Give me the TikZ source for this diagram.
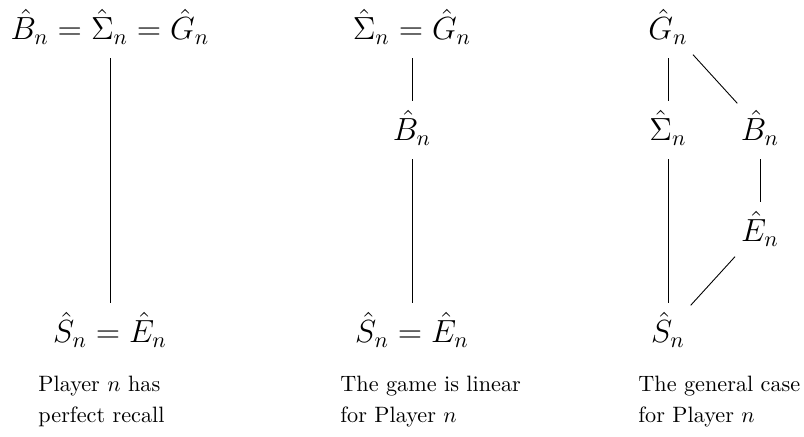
\documentclass[tikz,border=0pt]{standalone}
\begin{document}
\begin{tikzpicture}[x=0.45pt,y=-0.45pt,
  mnode/.style={anchor=base,inner sep=0pt,outer sep=0pt,font=\Large},
  conn/.style={line width=0.4pt,shorten <=6pt,shorten >=4.5pt},
  captext/.style={anchor=base west,align=left,inner sep=0pt}]
\useasboundingbox (0,0) rectangle (804,437);
% column 1
\node[mnode] (a1) at (110,40) {$\hat B_n=\hat\Sigma_n=\hat G_n$};
\node[mnode] (a2) at (110,343) {$\hat S_n=\hat E_n$};
\draw[conn] (a1) -- (a2);
\node[captext] (c1) at (38,423) {Player $n$ has\\[2pt]perfect recall};
% column 2
\node[mnode] (b1) at (412,40) {$\hat\Sigma_n=\hat G_n$};
\node[mnode] (b2) at (412,141) {$\hat B_n$};
\node[mnode] (b3) at (412,343) {$\hat S_n=\hat E_n$};
\draw[conn] (b1) -- (b2);
\draw[conn] (b2) -- (b3);
\node[captext] (c2) at (340,423) {The game is linear\\[2pt]for Player $n$};
% column 3
\node[mnode] (g) at (668,40) {$\hat G_n$};
\node[mnode] (s) at (668,141) {$\hat\Sigma_n$};
\node[mnode] (bb) at (760,141) {$\hat B_n$};
\node[mnode] (e) at (760,242) {$\hat E_n$};
\node[mnode] (ss) at (668,343) {$\hat S_n$};
\draw[conn] (g) -- (s);
\draw[conn] (g) -- (bb);
\draw[conn] (s) -- (ss);
\draw[conn] (bb) -- (e);
\draw[conn] (e) -- (ss);
\node[captext] (c3) at (638,423) {The general case\\[2pt]for Player $n$};
\end{tikzpicture}
\end{document}
